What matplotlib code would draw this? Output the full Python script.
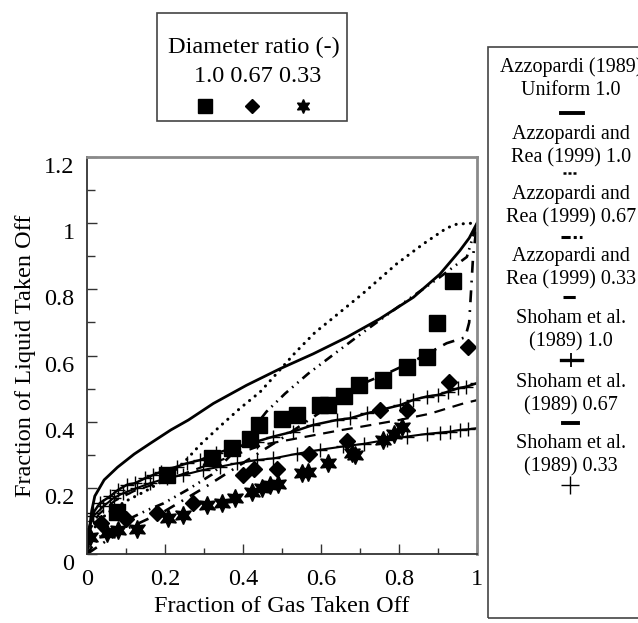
import matplotlib
matplotlib.use('Agg')
import matplotlib.pyplot as plt
import matplotlib.transforms as mtransforms
from matplotlib.lines import Line2D
from matplotlib.patches import Rectangle

plt.rcParams['font.family'] = ['Liberation Serif', 'DejaVu Serif']

# measured points, diameter ratio 1.0 / 0.67 / 0.33
sq_x = [0.076, 0.206, 0.320, 0.371, 0.418, 0.441, 0.499, 0.539, 0.597, 0.619, 0.660, 0.698, 0.758, 0.820, 0.871, 0.898, 0.938]
sq_y = [0.128, 0.238, 0.290, 0.321, 0.349, 0.391, 0.409, 0.419, 0.449, 0.449, 0.477, 0.510, 0.527, 0.565, 0.595, 0.699, 0.826]

dia_x = [0.035, 0.100, 0.179, 0.271, 0.399, 0.429, 0.486, 0.570, 0.666, 0.751, 0.820, 0.929, 0.978]
dia_y = [0.093, 0.105, 0.125, 0.153, 0.238, 0.258, 0.258, 0.302, 0.341, 0.434, 0.436, 0.520, 0.627]

star_x = [0.008, 0.050, 0.080, 0.127, 0.208, 0.247, 0.307, 0.345, 0.379, 0.422, 0.448, 0.469, 0.490,
          0.550, 0.567, 0.619, 0.679, 0.687, 0.760, 0.786, 0.807]
star_y = [0.052, 0.062, 0.072, 0.077, 0.108, 0.118, 0.148, 0.155, 0.168, 0.188, 0.198, 0.208, 0.213,
          0.244, 0.249, 0.274, 0.304, 0.299, 0.344, 0.364, 0.384]

# Azzopardi (1989) uniform 1.0
az_x = [0.0, 0.005, 0.012, 0.020, 0.044, 0.078, 0.121, 0.163, 0.215, 0.260, 0.324, 0.409, 0.495,
        0.580, 0.666, 0.751, 0.837, 0.905, 0.956, 0.980, 1.0]
az_y = [0.0, 0.060, 0.130, 0.175, 0.224, 0.262, 0.302, 0.335, 0.375, 0.405, 0.455, 0.510, 0.560,
        0.605, 0.655, 0.711, 0.776, 0.846, 0.917, 0.955, 1.0]

# Azzopardi and Rea (1999)
ar10_x = [0.0, 0.010, 0.030, 0.060, 0.100, 0.150, 0.200, 0.247, 0.290, 0.341, 0.392, 0.444, 0.486,
          0.535, 0.585, 0.623, 0.709, 0.794, 0.862, 0.922, 0.948, 0.990, 1.0]
ar10_y = [0.0, 0.060, 0.100, 0.130, 0.160, 0.190, 0.225, 0.275, 0.330, 0.386, 0.440, 0.490, 0.545,
          0.610, 0.670, 0.706, 0.789, 0.877, 0.937, 0.985, 0.997, 1.0, 1.0]

ar067_x = [0.0, 0.030, 0.080, 0.155, 0.196, 0.256, 0.320, 0.370, 0.420, 0.460, 0.508, 0.567, 0.640,
           0.709, 0.820, 0.905, 0.974, 1.0]
ar067_y = [0.0, 0.050, 0.090, 0.133, 0.153, 0.193, 0.240, 0.300, 0.370, 0.430, 0.485, 0.545, 0.610,
           0.671, 0.766, 0.837, 0.898, 1.0]

ar033_x = [0.0, 0.050, 0.100, 0.200, 0.300, 0.400, 0.500, 0.600, 0.717, 0.777, 0.841, 0.922, 0.970,
           0.980, 0.985, 0.990, 1.0]
ar033_y = [0.0, 0.040, 0.075, 0.130, 0.200, 0.275, 0.350, 0.430, 0.520, 0.550, 0.585, 0.637, 0.655,
           0.700, 0.800, 0.900, 1.0]

# Shoham et al. (1989)
sh10_x = [0.0, 0.016, 0.033, 0.059, 0.080, 0.102, 0.123, 0.149, 0.170, 0.191, 0.230, 0.256, 0.290,
          0.332, 0.375, 0.435, 0.478, 0.529, 0.580, 0.640, 0.674, 0.717, 0.751, 0.803, 0.837, 0.871,
          0.901, 0.926, 0.952, 0.973, 0.999]
sh10_y = [0.058, 0.124, 0.154, 0.174, 0.194, 0.209, 0.214, 0.229, 0.239, 0.249, 0.264, 0.274, 0.284,
          0.305, 0.320, 0.340, 0.355, 0.370, 0.390, 0.405, 0.410, 0.425, 0.435, 0.450, 0.466, 0.476,
          0.481, 0.491, 0.501, 0.506, 0.516]

sh067_x = [0.0, 0.030, 0.070, 0.120, 0.200, 0.300, 0.450, 0.550, 0.640, 0.709, 0.800, 0.879, 0.965, 1.0]
sh067_y = [0.058, 0.120, 0.160, 0.190, 0.222, 0.265, 0.330, 0.352, 0.372, 0.386, 0.405, 0.424, 0.455, 0.465]

sh033_x = [0.0, 0.016, 0.042, 0.068, 0.093, 0.127, 0.162, 0.204, 0.247, 0.298, 0.341, 0.384, 0.435,
           0.478, 0.538, 0.597, 0.657, 0.709, 0.768, 0.820, 0.871, 0.905, 0.931, 0.956, 0.978, 0.999]
sh033_y = [0.058, 0.114, 0.144, 0.169, 0.184, 0.199, 0.214, 0.229, 0.239, 0.254, 0.264, 0.274, 0.284,
           0.289, 0.303, 0.315, 0.325, 0.333, 0.345, 0.355, 0.363, 0.367, 0.370, 0.375, 0.377, 0.380]

x_ticks = [0, 0.2, 0.4, 0.6, 0.8, 1.0]
x_labels = ['0', '0.2', '0.4', '0.6', '0.8', '1']
y_ticks = [0, 0.2, 0.4, 0.6, 0.8, 1.0, 1.2]
y_labels = ['0', '0.2', '0.4', '0.6', '0.8', '1', '1.2']

legend_items = ['Azzopardi (1989)\nUniform 1.0',
                'Azzopardi and\nRea (1999) 1.0',
                'Azzopardi and\nRea (1999) 0.67',
                'Azzopardi and\nRea (1999) 0.33',
                'Shoham et al.\n(1989) 1.0',
                'Shoham et al.\n(1989) 0.67',
                'Shoham et al.\n(1989) 0.33']

W, H = 638, 623
fig = plt.figure(figsize=(W / 100, H / 100), dpi=100)
ax = fig.add_axes([87 / W, (H - 554) / H, 390 / W, 397 / H])

star = (6, 1, 0)
k = 'black'

ax.plot(az_x, az_y, '-', color=k, lw=2.0)
ax.plot(ar10_x, ar10_y, color=k, lw=2.2, linestyle=(0, (0.05, 2.3)), dash_capstyle='round')
ax.plot(ar067_x, ar067_y, color=k, lw=1.9, linestyle=(0, (3.5, 2.0, 0.6, 2.0, 0.6, 2.0)))
ax.plot(ar033_x, ar033_y, color=k, lw=1.9, linestyle=(0, (4.5, 3.0, 0.7, 3.0)))
ax.plot(sh10_x, sh10_y, '-', color=k, lw=1.8, marker='+', ms=10, mew=1.0)
ax.plot(sh067_x, sh067_y, color=k, lw=1.6, linestyle=(0, (5, 3.5)))
ax.plot(sh033_x, sh033_y, '-', color=k, lw=1.5, marker='+', ms=10, mew=1.0)

ax.plot(sq_x, sq_y, 's', color=k, ms=11.5, ls='none')
ax.plot(dia_x, dia_y, 'D', color=k, ms=8.5, ls='none')
ax.plot(star_x, star_y, marker=star, color=k, ms=13, ls='none')

ax.set_xlim(0, 1)
ax.set_ylim(0, 1.2)
ax.set_xticks(x_ticks)
ax.set_xticklabels(x_labels)
ax.set_yticks(y_ticks)
ax.set_yticklabels(y_labels)
ax.set_xticks([0.1, 0.3, 0.5, 0.7, 0.9], minor=True)
ax.set_yticks([0.1, 0.3, 0.5, 0.7, 0.9, 1.1], minor=True)
ax.tick_params(which='major', direction='in', length=7, width=1, labelsize=17.5, color='#333333')
ax.tick_params(axis='x', which='major', pad=11)
ax.tick_params(axis='y', which='major', pad=9)
ax.tick_params(which='minor', direction='in', length=4, width=1, color='#333333')
ax.tick_params(axis='y', which='minor', length=6)

off = mtransforms.ScaledTranslation(0, -0.08, fig.dpi_scale_trans)
for lab in ax.get_yticklabels():
    lab.set_transform(lab.get_transform() + off)

for s in ['left', 'bottom']:
    ax.spines[s].set_color('#333333')
    ax.spines[s].set_linewidth(1.3)
for s in ['top', 'right']:
    ax.spines[s].set_color('#8a8a8a')
    ax.spines[s].set_linewidth(2.0)

ax.set_xlabel('Fraction of Gas Taken Off', fontsize=17.5, labelpad=4)
ax.set_ylabel('Fraction of Liquid Taken Off', fontsize=17.5, labelpad=6)


def fx(px):
    return px / W


def fy(py):
    return 1 - py / H


# top legend box
fig.patches.append(Rectangle((fx(157), fy(121)), fx(347) - fx(157), fy(13) - fy(121),
                             transform=fig.transFigure, fill=False, ec='#444444', lw=1.2))
fig.text(fx(254), fy(47), 'Diameter ratio (-)', ha='center', va='center', fontsize=17.5)
fig.text(fx(258), fy(76), '1.0 0.67 0.33', ha='center', va='center', fontsize=17.5)
fig.lines.append(Line2D([fx(205)], [fy(106)], marker='s', ms=9.5, color=k, transform=fig.transFigure))
fig.lines.append(Line2D([fx(252)], [fy(106)], marker='D', ms=7, color=k, transform=fig.transFigure))
fig.lines.append(Line2D([fx(303)], [fy(106)], marker=star, ms=10, color=k, transform=fig.transFigure))

# right legend box
fig.patches.append(Rectangle((fx(488), fy(618)), fx(700) - fx(488), fy(47) - fy(618),
                             transform=fig.transFigure, fill=False, ec='#444444', lw=1.2))
text_y = [79, 146, 206, 268, 330, 394, 455]
sample_y = [113, 173, 237, 297, 360, 423, 485]
for txt, ty in zip(legend_items, text_y):
    fig.text(fx(571), fy(ty), txt, ha='center', va='center', fontsize=14.5, linespacing=1.3)

samples = [
    dict(x=[561, 583], ls='-', lw=2.8),
    dict(x=[563, 578], ls=(0, (1.2, 0.8)), lw=1.8),
    dict(x=[561, 582], ls=(0, (3, 1, 1, 1, 1, 1)), lw=2.2),
    dict(x=[563, 577], ls=(0, (4, 2, 1.2, 2)), lw=2.2),
    dict(x=[561, 582], ls='-', lw=2.4),
    dict(x=[563, 578], ls='-', lw=2.8),
]
for smp, sy in zip(samples, sample_y):
    fig.lines.append(Line2D([fx(smp['x'][0]), fx(smp['x'][1])], [fy(sy), fy(sy)], color=k,
                            lw=smp['lw'], linestyle=smp['ls'], transform=fig.transFigure))
fig.lines.append(Line2D([fx(571)], [fy(sample_y[4])], marker='+', ms=10, mew=1.3, color=k,
                        transform=fig.transFigure))
fig.lines.append(Line2D([fx(570)], [fy(sample_y[6])], marker='+', ms=13, mew=1.0, color=k,
                        transform=fig.transFigure))

fig.savefig('out.png', dpi=100)
